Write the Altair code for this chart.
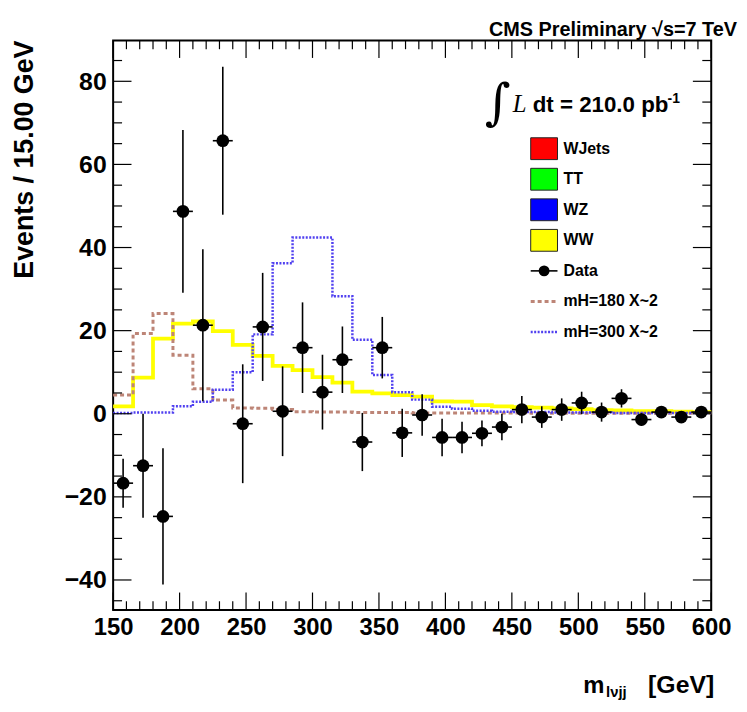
import altair as alt
import pandas as pd

# ---------------- data ----------------
bin_start = 150.0
bin_width = 15.0

data_vals = [-16.7, -12.5, -24.7, 48.7, 21.3, 65.7, -2.4, 20.9, 0.6, 15.9,
             5.2, 13.0, -6.8, 15.9, -4.6, -0.3, -5.7, -5.7, -4.7, -3.2,
             1.0, -0.8, 1.0, 2.6, 0.4, 3.7, -1.4, 0.4, -0.8, 0.4]
data_errs = [5.9, 12.5, 16.4, 19.6, 18.3, 17.8, 14.3, 13.0, 10.8, 10.9,
             9.0, 8.0, 7.0, 7.4, 5.8, 5.0, 4.5, 3.8, 3.1, 3.2,
             3.3, 2.6, 2.7, 2.7, 2.3, 2.2, 1.5, 1.2, 1.2, 1.0]
ww_vals = [1.8, 8.7, 18.1, 21.7, 22.2, 19.9, 16.6, 13.9, 11.5, 10.5,
           8.8, 7.5, 5.3, 4.9, 4.5, 4.1, 3.0, 2.9, 2.1, 1.8,
           1.6, 1.5, 1.3, 1.1, 0.9, 0.8, 0.6, 0.6, 0.5, 0.4]
mh180_vals = [4.5, 19.3, 24.1, 14.1, 6.0, 3.3, 1.4, 1.3, 1.0, 0.5,
              0.4, 0.4, 0.3, 0.3, 0.3, 0.2, 0.2, 0.2, 0.2, 0.2,
              0.2, 0.1, 0.1, 0.1, 0.1, 0.1, 0.1, 0.1, 0.1, 0.1]
mh300_vals = [0.2, 0.3, 0.3, 1.8, 2.9, 5.8, 10.0, 19.1, 36.2, 42.4,
              42.4, 28.3, 17.8, 9.3, 5.2, 3.4, 1.7, 1.2, 0.7, 0.5,
              0.4, 0.4, 0.3, 0.3, 0.3, 0.2, 0.2, 0.2, 0.2, 0.2]

x_major = [150, 200, 250, 300, 350, 400, 450, 500, 550, 600]
x_minor = [v for v in range(150, 601, 10) if v % 50 != 0]
y_major = [-40, -20, 0, 20, 40, 60, 80]
y_minor = [v for v in range(-45, 90, 5) if v % 20 != 0]

legend_names = ["WJets", "TT", "WZ", "WW"]
legend_fills = ["#ff0000", "#00ff00", "#0000ff", "#ffff00"]

# ---------------- layout / style ----------------
W, H = 603, 574
FONT = "Liberation Sans"
x_dom = [150, 600]
y_dom = [-47.2, 89.8]

n = len(data_vals)
centers = [bin_start + bin_width * (i + 0.5) for i in range(n)]
edges = [bin_start + bin_width * i for i in range(n + 1)]

hist = pd.DataFrame({
    "edge": edges,
    "ww": ww_vals + [ww_vals[-1]],
    "mh180": mh180_vals + [mh180_vals[-1]],
    "mh300": mh300_vals + [mh300_vals[-1]],
})
pts = pd.DataFrame({
    "c": centers,
    "v": data_vals,
    "lo": [v - e for v, e in zip(data_vals, data_errs)],
    "hi": [v + e for v, e in zip(data_vals, data_errs)],
    "xl": [c - bin_width / 2 for c in centers],
    "xh": [c + bin_width / 2 for c in centers],
})

xs = alt.Scale(domain=x_dom, nice=False, zero=False)
ys = alt.Scale(domain=y_dom, nice=False, zero=False)

x_axis = alt.Axis(values=x_major, format="d", ticks=False, tickSize=0, domain=False,
                  grid=False, labelFont=FONT, labelFontWeight="bold", labelFontSize=24,
                  labelColor="black", labelBaseline="alphabetic", labelPadding=25,
                  labelFlush=False, labelOverlap=False, title=None)
y_axis = alt.Axis(values=y_major, format="d", ticks=False, tickSize=0, domain=False,
                  grid=False, labelFont=FONT, labelFontWeight="bold", labelFontSize=25,
                  labelColor="black", labelPadding=7, labelFlush=False,
                  labelOverlap=False, title=None)


def X(field):
    return alt.X(field, scale=xs, axis=x_axis, title=None)


def Y(field):
    return alt.Y(field, scale=ys, axis=y_axis, title=None)


def step_layer(col, color, width, dash=None):
    kw = dict(interpolate="step-after", color=color, strokeWidth=width)
    if dash:
        kw["strokeDash"] = dash
    return alt.Chart(hist).mark_line(**kw).encode(x=X("edge:Q"), y=Y(f"{col}:Q"))


ww_line = step_layer("ww", "#ffff00", 3.8)
mh180_line = step_layer("mh180", "#bd8577", 3, dash=[4, 3])
mh300_line = step_layer("mh300", "#5040f0", 2.5, dash=[2, 1.5])

err_y = alt.Chart(pts).mark_rule(color="black", strokeWidth=1.6).encode(
    x=X("c:Q"), y=Y("lo:Q"), y2="hi:Q")
err_x = alt.Chart(pts).mark_rule(color="black", strokeWidth=1.6).encode(
    x=X("xl:Q"), x2="xh:Q", y=Y("v:Q"))
dots = alt.Chart(pts).mark_circle(size=165, color="black", opacity=1).encode(
    x=X("c:Q"), y=Y("v:Q"))

# ---------------- ROOT-style inward ticks ----------------
def xticks(vals, length):
    d = pd.DataFrame({"t": vals})
    b = alt.Chart(d).mark_rule(color="black", strokeWidth=1.2).encode(
        x=X("t:Q"), y=alt.value(H), y2=alt.value(H - length))
    t = alt.Chart(d).mark_rule(color="black", strokeWidth=1.2).encode(
        x=X("t:Q"), y=alt.value(0), y2=alt.value(length))
    return [b, t]


def yticks(vals, length):
    d = pd.DataFrame({"t": vals})
    l = alt.Chart(d).mark_rule(color="black", strokeWidth=1.2).encode(
        y=Y("t:Q"), x=alt.value(0), x2=alt.value(length))
    r = alt.Chart(d).mark_rule(color="black", strokeWidth=1.2).encode(
        y=Y("t:Q"), x=alt.value(W), x2=alt.value(W - length))
    return [l, r]


tick_layers = xticks(x_major, 17.5) + xticks(x_minor, 8.7) + \
    yticks(y_major, 18.5) + yticks(y_minor, 9)

# ---------------- legend ----------------
one = pd.DataFrame({"k": [0]})
leg = []
LX0, LX1, LTX = 421, 448, 454
row_y = [109 + 30.8 * i for i in range(7)]
for i, (name, fill) in enumerate(zip(legend_names, legend_fills)):
    yc = row_y[i]
    leg.append(alt.Chart(one).mark_rect(fill=fill, stroke="#222222", strokeWidth=1).encode(
        x=alt.value(LX0), x2=alt.value(LX1), y=alt.value(yc - 11), y2=alt.value(yc + 11)))
    leg.append(alt.Chart(one).mark_text(text=name, font=FONT, fontWeight="bold", fontSize=16,
                                        align="left", baseline="middle", color="black").encode(
        x=alt.value(LTX), y=alt.value(yc)))
# Data entry
yc = row_y[4]
leg.append(alt.Chart(one).mark_rule(color="black", strokeWidth=1.6).encode(
    x=alt.value(LX0), x2=alt.value(LX1), y=alt.value(yc)))
leg.append(alt.Chart(one).mark_circle(size=120, color="black", opacity=1).encode(
    x=alt.value((LX0 + LX1) / 2), y=alt.value(yc)))
leg.append(alt.Chart(one).mark_text(text="Data", font=FONT, fontWeight="bold", fontSize=16,
                                    align="left", baseline="middle", color="black").encode(
    x=alt.value(LTX), y=alt.value(yc)))
# signal entries
for yc, lab, col, wdt, dash in [(row_y[5], "mH=180 X~2", "#bd8577", 3, [4, 3]),
                                (row_y[6], "mH=300 X~2", "#5040f0", 2.5, [2, 1.5])]:
    leg.append(alt.Chart(one).mark_rule(color=col, strokeWidth=wdt, strokeDash=dash).encode(
        x=alt.value(LX0), x2=alt.value(LX1), y=alt.value(yc)))
    leg.append(alt.Chart(one).mark_text(text=lab, font=FONT, fontWeight="bold", fontSize=16,
                                        align="left", baseline="middle", color="black").encode(
        x=alt.value(LTX), y=alt.value(yc)))

# integrated luminosity
lumi = [
    alt.Chart(one).mark_text(text="∫", font="DejaVu Serif", fontSize=50, align="center",
                             baseline="middle", color="black").encode(
        x=alt.value(388), y=alt.value(64)),
    alt.Chart(one).mark_text(text="L", font="Liberation Serif", fontStyle="italic", fontSize=25,
                             align="left", baseline="alphabetic", color="black").encode(
        x=alt.value(403), y=alt.value(72)),
    alt.Chart(one).mark_text(text="dt = 210.0 pb", font=FONT, fontWeight="bold", fontSize=22.5,
                             align="left", baseline="alphabetic", color="black").encode(
        x=alt.value(423), y=alt.value(72)),
    alt.Chart(one).mark_text(text="-1", font=FONT, fontWeight="bold", fontSize=14,
                             align="left", baseline="alphabetic", color="black").encode(
        x=alt.value(559), y=alt.value(63)),
]

# ---------------- titles ----------------
titles = [
    alt.Chart(one).mark_text(text="CMS Preliminary √s=7 TeV", font=FONT, fontWeight="bold",
                             fontSize=20, align="right", baseline="alphabetic",
                             color="black").encode(x=alt.value(629), y=alt.value(-5)),
    alt.Chart(one).mark_text(text="Events / 15.00 GeV", font=FONT, fontWeight="bold",
                             fontSize=27, angle=270, align="right", baseline="alphabetic",
                             color="black").encode(x=alt.value(-81), y=alt.value(0)),
    alt.Chart(one).mark_text(text="[GeV]", font=FONT, fontWeight="bold", fontSize=25,
                             align="right", baseline="alphabetic", color="black").encode(
        x=alt.value(W + 3), y=alt.value(658)),
    alt.Chart(one).mark_text(text="m", font=FONT, fontWeight="bold", fontSize=24,
                             align="left", baseline="alphabetic", color="black").encode(
        x=alt.value(474), y=alt.value(658)),
    alt.Chart(one).mark_text(text="lνjj", font=FONT, fontWeight="bold", fontSize=15,
                             align="left", baseline="alphabetic", color="black").encode(
        x=alt.value(497), y=alt.value(662)),
]

chart = alt.layer(
    ww_line, mh180_line, mh300_line, err_y, err_x, dots,
    *tick_layers, *leg, *lumi, *titles
).properties(
    width=W, height=H,
    autosize=alt.AutoSizeParams(type="none"),
    padding={"left": 106, "top": 30, "right": 28, "bottom": 88},
    background="white",
).configure_view(stroke="black", strokeWidth=2)

chart.save("out.html", embed_options={"renderer": "svg", "actions": False})
